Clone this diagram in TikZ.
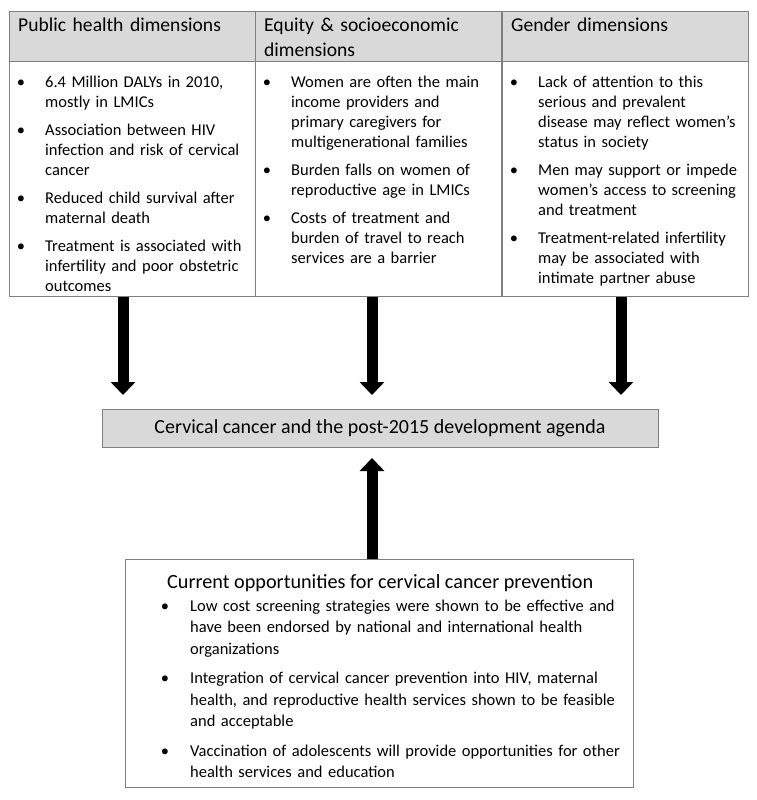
\documentclass[tikz,border=0pt]{standalone}
\usepackage{fontspec}
\setmainfont{Carlito}
\usepackage{enumitem}
\usepackage{tikz}
\usetikzlibrary{positioning,arrows.meta}

\definecolor{linegray}{HTML}{7F7F7F}
\definecolor{headgray}{HTML}{D9D9D9}

\setlist[itemize]{label=\textbullet, leftmargin=27pt, labelsep=20pt, topsep=0pt, itemsep=8pt, parsep=0pt, partopsep=0pt}

\begin{document}
\begin{tikzpicture}[
    x=1pt, y=1pt,
    cell/.style={draw=linegray, line width=0.8pt, minimum width=246pt, inner sep=0pt, anchor=north west},
    head/.style={cell, fill=headgray, minimum height=50pt},
    body/.style={cell, minimum height=235pt},
    headtext/.style={anchor=base west, inner sep=0pt, text width=228pt, align=left, font=\fontsize{19.6}{24.5}\selectfont},
    bullets/.style={anchor=base west, inner sep=0pt, text width=228pt, align=left, font=\fontsize{16.5}{20}\selectfont},
    bigarrow/.style={-{Triangle[width=24pt,length=13pt]}, line width=11pt}
]
\useasboundingbox (0,0) rectangle (757,-800);

% Table header
\node[head] (phhead) at (9,-11) {};
\node[head] (eqhead) at (255,-11) {};
\node[head] (gdhead) at (502,-11) {};
\node[headtext] (phtitle) at (18,-32) {Public health dimensions};
\node[headtext] (eqtitle) at (264,-32) {Equity \& socioeconomic dimensions};
\node[headtext] (gdtitle) at (511,-32) {Gender dimensions};

% Table body
\node[body] (phbody) at (9,-61) {};
\node[body] (eqbody) at (255,-61) {};
\node[body] (gdbody) at (502,-61) {};
\node[bullets] (phlist) at (18,-67) {\begin{itemize}
    \item 6.4 Million DALYs in 2010, mostly in LMICs
    \item Association between HIV infection and risk of cervical cancer
    \item Reduced child survival after maternal death
    \item Treatment is associated with infertility and poor obstetric outcomes
\end{itemize}};
\node[bullets] (eqlist) at (264,-67) {\begin{itemize}
    \item Women are often the main income providers and primary caregivers for multigenerational families
    \item Burden falls on women of reproductive age in LMICs
    \item Costs of treatment and burden of travel to reach services are a barrier
\end{itemize}};
\node[bullets] (gdlist) at (511,-67) {\begin{itemize}
    \item Lack of attention to this serious and prevalent disease may reflect women’s status in society
    \item Men may support or impede women’s access to screening and treatment
    \item Treatment-related infertility may be associated with intimate partner abuse
\end{itemize}};

% Agenda box
\node[draw=linegray, line width=0.8pt, fill=headgray, minimum width=556pt, minimum height=38pt, font=\fontsize{20}{24}\selectfont] (agenda) at (380,-428) {Cervical cancer and the post-2015 development agenda};

% Prevention box
\node[draw=linegray, line width=0.8pt, anchor=north west, minimum width=508pt, minimum height=228pt, inner sep=0pt] (prev) at (125,-559) {};
\node[anchor=base west, inner sep=0pt, font=\fontsize{20.2}{24.5}\selectfont] (prevtitle) at (167,-588) {Current opportunities for cervical cancer prevention};
\node[anchor=base west, inner sep=0pt, text width=461pt, align=left, font=\fontsize{16.5}{21.5}\selectfont] (prevlist) at (163,-589.5) {\begin{itemize}[leftmargin=27pt, labelsep=21pt]
    \item Low cost screening strategies were shown to be effective and have been endorsed by national and international health organizations
    \item Integration of cervical cancer prevention into HIV, maternal health, and reproductive health services shown to be feasible and acceptable
    \item Vaccination of adolescents will provide opportunities for other health services and education
\end{itemize}};

% Arrows
\coordinate (tip1) at (123,-395);
\coordinate (tip2) at (372,-395);
\coordinate (tip3) at (621,-395);
\coordinate (tipup) at (372,-458);
\draw[bigarrow] (tip1 |- phbody.south) -- (tip1);
\draw[bigarrow] (tip2 |- eqbody.south) -- (tip2);
\draw[bigarrow] (tip3 |- gdbody.south) -- (tip3);
\draw[bigarrow] (tipup |- prev.north) -- (tipup);

\end{tikzpicture}
\end{document}
